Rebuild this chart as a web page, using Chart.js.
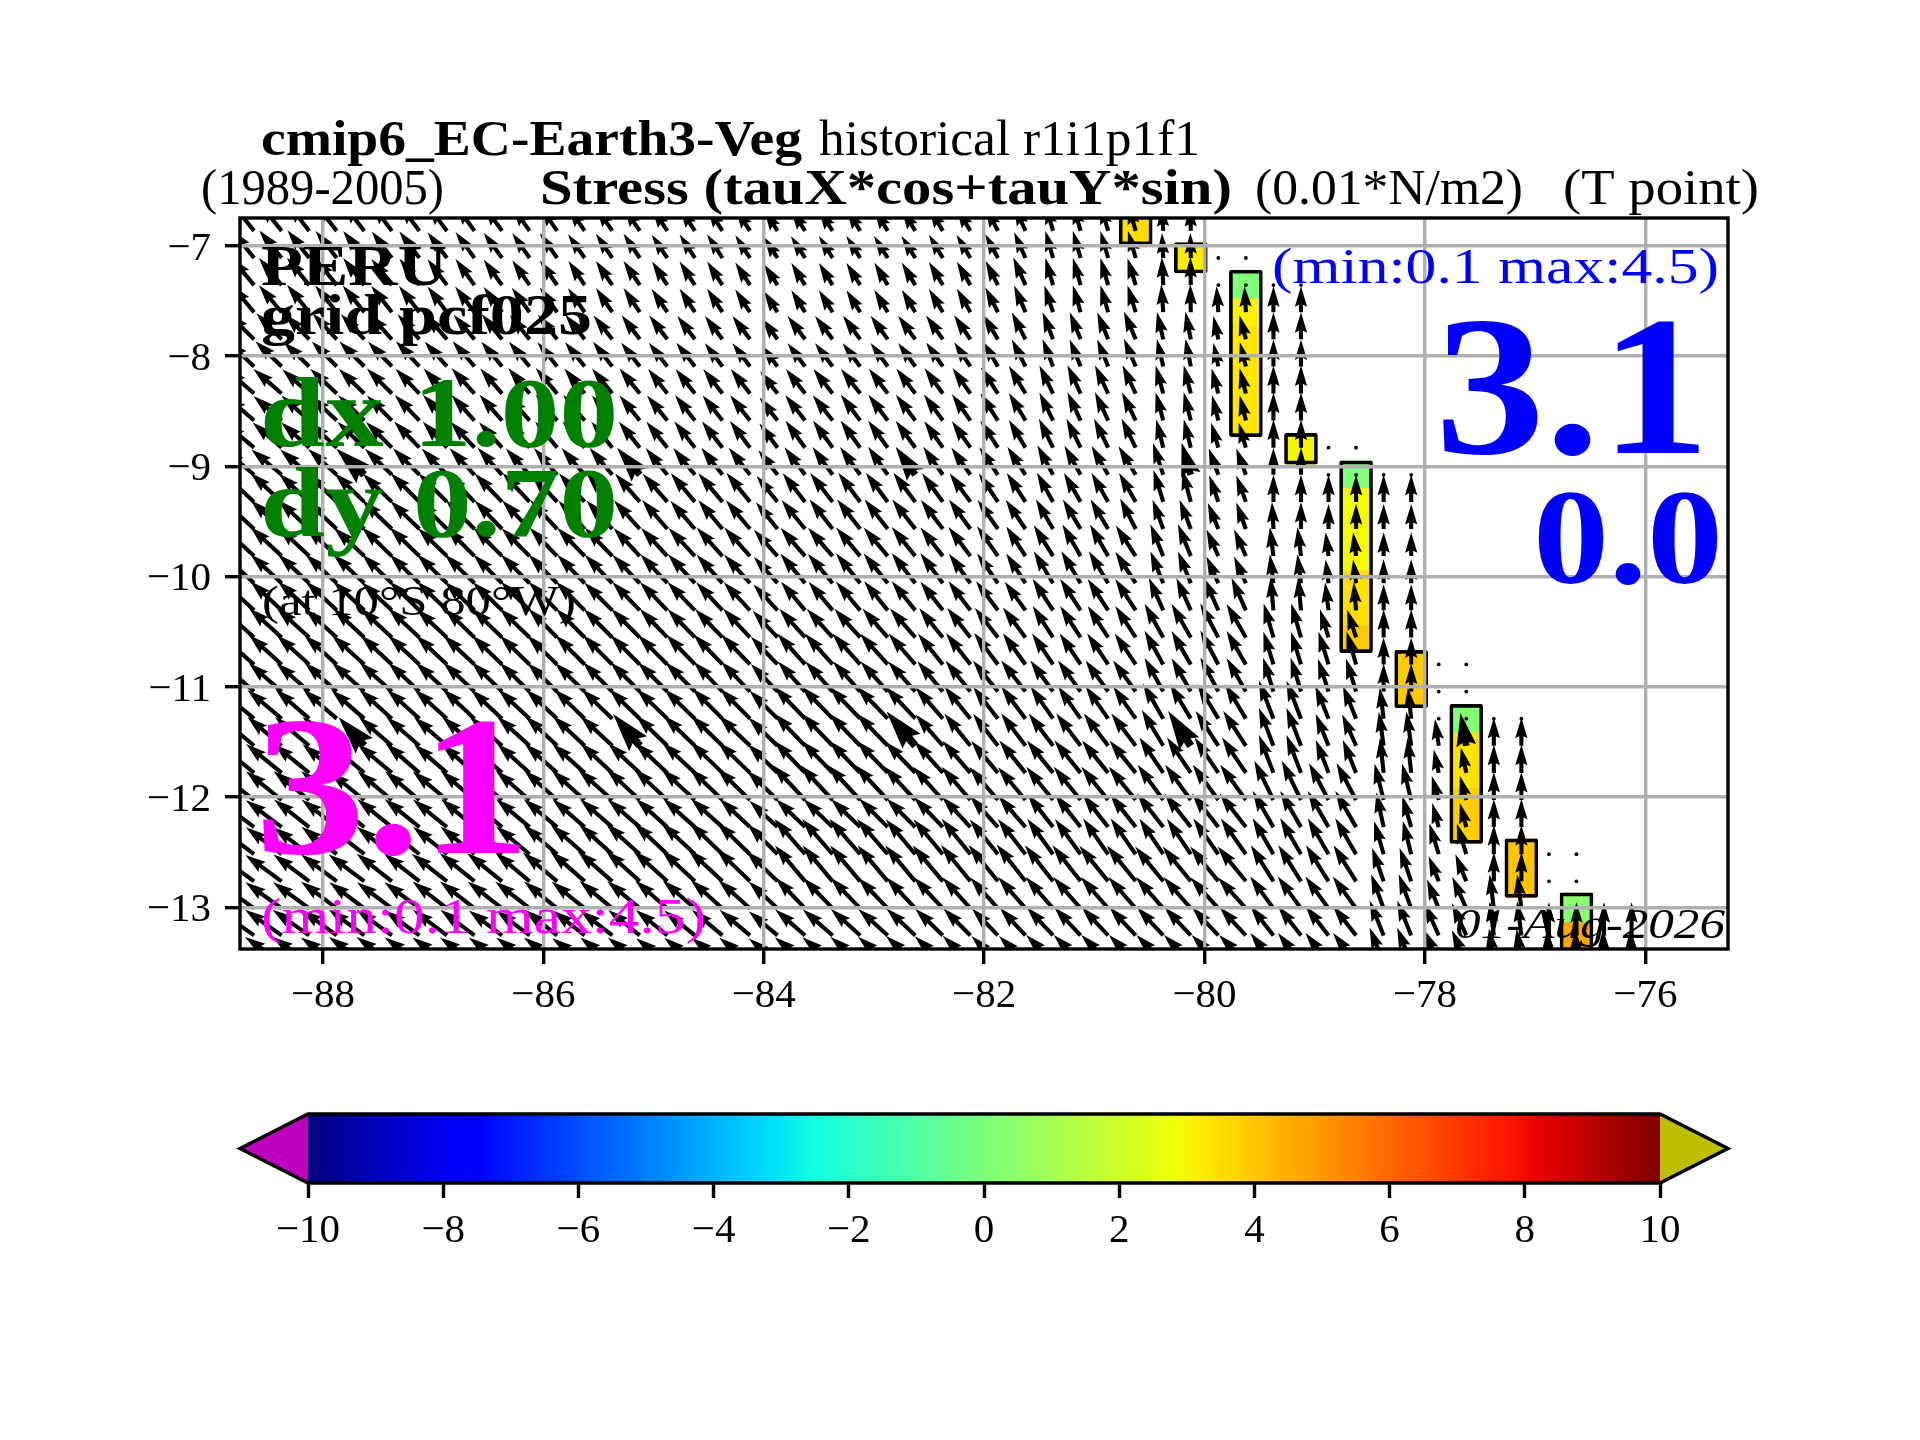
<!DOCTYPE html>
<html><head><meta charset="utf-8">
<style>html,body{margin:0;padding:0;background:#fff;width:1920px;height:1440px;overflow:hidden}
canvas{position:absolute;left:0;top:0}</style>
<script src="https://cdn.jsdelivr.net/npm/chart.js@4"></script></head><body>
<canvas id="map" width="1920" height="1440"></canvas>
<canvas id="cbar" width="1920" height="1440"></canvas>
<script>
const lons=[-88.625,-88.375,-88.125,-87.875,-87.625,-87.375,-87.125,-86.875,-86.625,-86.375,-86.125,-85.875,-85.625,-85.375,-85.125,-84.875,-84.625,-84.375,-84.125,-83.875,-83.625,-83.375,-83.125,-82.875,-82.625,-82.375,-82.125,-81.875,-81.625,-81.375,-81.125,-80.875,-80.625,-80.375,-80.125,-79.875,-79.625,-79.375,-79.125,-78.875,-78.625,-78.375,-78.125,-77.875,-77.625,-77.375,-77.125,-76.875,-76.625,-76.375,-76.125];
const lats=[-6.863,-7.109,-7.355,-7.601,-7.847,-8.093,-8.339,-8.584,-8.83,-9.076,-9.322,-9.568,-9.814,-10.06,-10.306,-10.552,-10.797,-11.043,-11.289,-11.535,-11.781,-12.027,-12.273,-12.519,-12.765,-13.011,-13.256,-13.502];
// direction of each arrow, degrees west of north
const angleRows=[
[39,39,38,38,38,37,37,37,36,36,35,35,35,34,34,34,33,33,33,33,33,33,32,32,32,31,31,28,24,16,16,16,16,3,1],
[39,39,38,38,38,37,37,37,36,36,35,35,35,34,34,34,33,33,33,33,33,32,32,32,32,31,31,28,24,16,16,16,16,3,1,0,0],
[40,40,39,39,38,38,37,37,36,36,35,35,34,34,34,33,33,33,33,33,32,32,32,31,31,31,30,27,24,16,16,16,17,3,1,0,0,0,0],
[40,40,39,39,39,38,38,37,37,36,36,35,35,34,34,34,33,33,33,33,32,32,32,31,31,31,30,27,23,18,16,16,17,4,1,4,3,0,0],
[45,44,44,43,43,42,41,41,40,39,39,38,38,38,37,37,37,37,37,37,37,37,36,36,36,35,34,31,27,21,22,22,23,13,11,12,15,0,0],
[47,46,46,45,45,44,43,42,41,40,40,39,39,38,38,38,38,37,37,37,37,37,37,36,36,35,34,31,27,21,22,22,23,13,11,12,14,0,0],
[49,49,48,47,46,45,44,43,42,41,40,40,39,39,39,38,38,38,38,38,38,38,38,37,37,36,35,33,31,26,25,25,25,15,14,15,14,0,0],
[49,49,48,47,46,45,44,43,42,41,41,40,40,39,39,39,38,38,38,38,38,38,37,37,37,36,35,33,31,26,25,25,26,15,14,14,14,0,0],
[50,49,48,47,46,45,44,43,43,42,41,40,40,39,39,39,38,38,37,37,36,36,36,36,36,35,35,33,31,26,26,26,26,14,14,16,16,0,0,0,0],
[50,50,49,48,47,46,45,44,43,42,42,41,41,40,40,39,39,38,38,38,37,36,36,35,35,35,35,34,33,28,29,30,31,18,16,20,20,0,0,0,0,0,0],
[47,47,47,46,46,46,45,45,44,44,43,43,42,42,41,41,40,40,39,39,38,38,37,37,37,36,36,34,33,29,30,30,30,17,15,19,20,0,0,0,0,0,0],
[47,47,47,47,46,46,46,45,45,44,44,43,43,42,42,41,41,40,40,39,39,38,38,38,38,37,36,35,34,30,31,31,27,20,21,22,20,3,0,0,0,0,0],
[47,47,47,47,47,46,46,46,45,45,45,44,44,44,43,43,43,42,42,42,41,41,40,40,39,38,37,35,33,32,30,30,33,22,22,24,24,7,7,7,7,0,0],
[47,47,47,47,47,46,46,46,46,45,45,45,44,44,44,43,43,42,42,42,40,40,39,39,38,37,36,35,33,31,31,31,33,22,22,24,24,7,7,7,7,0,0],
[47,47,47,47,47,47,46,46,46,46,45,45,45,45,44,44,44,43,43,43,40,40,40,39,39,38,37,37,36,33,33,33,33,24,24,24,24,5,5,7,5,0,0],
[48,48,48,48,47,47,47,47,46,46,46,45,45,45,45,44,44,44,43,43,42,42,42,41,41,39,38,38,37,33,33,33,33,29,30,28,30,16,16,17,18,0,0],
[49,48,48,48,48,47,47,47,47,46,46,46,45,45,45,45,44,44,44,44,42,42,42,42,41,39,38,37,36,34,34,34,34,29,30,28,30,17,17,17,16,0,0,0,0],
[49,49,49,48,48,48,47,47,47,46,46,46,46,45,45,45,45,44,44,44,42,42,42,42,42,40,39,39,38,36,36,36,36,29,30,28,30,17,17,18,17,0,0,0,0],
[50,50,49,49,49,48,48,48,47,47,47,47,46,46,46,46,46,45,45,45,44,44,44,44,43,41,39,38,37,35,35,35,35,30,31,31,31,21,21,22,22,7,6,0,0,0,0],
[50,50,50,50,42,49,49,49,48,48,48,47,47,47,40,46,46,46,46,46,44,44,44,44,40,41,39,38,37,37,37,37,37,31,33,33,33,21,21,22,24,8,8,8,10,0,0],
[51,51,51,50,50,50,49,49,49,48,48,48,48,47,47,47,47,46,46,46,44,44,44,44,44,42,41,40,39,39,39,39,39,34,34,34,34,21,21,21,22,6,6,12,12,0,0],
[52,51,51,51,51,50,50,50,49,49,49,48,48,48,47,47,47,46,46,46,43,43,43,43,43,42,41,41,40,39,39,39,39,36,36,36,36,26,26,28,28,14,14,16,15,0,0],
[53,53,52,52,52,51,51,51,50,50,50,50,49,49,49,48,48,48,47,47,46,46,46,45,45,44,43,42,41,38,38,38,38,38,38,38,38,30,30,30,30,12,16,15,15,0,0],
[53,53,53,52,52,52,51,51,51,50,50,49,49,48,48,47,47,46,46,45,41,41,41,41,40,40,39,39,38,36,36,35,35,34,34,35,35,30,30,30,30,16,14,17,17,0,0,0,0],
[54,54,53,53,53,52,52,52,51,51,50,50,49,49,48,48,47,47,46,46,40,40,40,40,40,40,39,39,38,38,38,39,39,39,39,39,39,32,32,32,32,19,19,22,22,0,0,0,0],
[54,54,54,53,53,53,53,52,52,52,52,51,51,50,50,49,49,48,48,47,44,44,44,44,43,43,42,42,41,41,41,41,41,41,41,42,42,36,36,36,36,20,20,22,24,7,7,0,0,0,0],
[55,55,55,54,54,54,54,53,53,53,53,52,52,52,51,51,51,50,50,50,49,49,48,48,47,46,45,44,43,43,43,43,43,43,43,43,43,38,38,38,38,22,22,24,24,7,7,0,0,0,0],
[55,55,55,55,54,54,54,54,54,53,53,53,53,52,52,52,51,51,51,50,50,50,49,49,48,47,46,45,45,44,44,44,44,44,44,44,44,38,38,38,38,22,22,24,24,8,8,3,2,2,2]
];
// stress magnitude of each arrow, tenths of 0.01 N/m2
const stressRows=[
[34,34,34,33,33,32,32,31,31,30,29,29,28,28,28,27,27,27,26,24,25,25,25,25,25,26,26,26,27,27,27,27,27,24,24],
[34,34,34,33,33,32,32,31,31,30,29,29,28,28,28,27,27,27,26,24,25,25,25,25,25,26,26,26,27,27,27,27,27,24,24,0,0],
[34,34,34,33,33,32,32,31,31,30,29,29,28,28,28,27,27,27,26,24,25,25,25,25,25,26,26,26,29,27,27,27,27,27,27,0,0,0,0],
[34,34,34,33,33,32,32,31,31,30,29,29,28,28,28,27,27,27,26,24,25,25,25,25,25,26,26,27,28,27,27,27,27,27,27,25,25,25,25],
[35,35,34,34,33,33,32,32,31,31,30,30,30,29,29,29,28,28,28,25,28,28,28,28,28,28,28,28,29,28,28,28,29,27,27,23,24,26,26],
[35,35,34,34,34,33,33,32,32,31,31,30,30,30,29,29,29,28,28,25,28,28,28,28,28,28,28,28,29,28,28,28,29,27,27,23,24,26,26],
[36,36,35,35,34,34,33,33,33,32,32,32,31,31,31,30,30,30,30,27,30,30,30,30,30,30,30,30,31,30,30,30,30,28,28,25,25,27,27],
[36,36,36,35,35,34,34,34,33,33,32,32,32,31,31,31,31,31,31,28,31,31,31,31,31,31,31,31,31,30,30,30,30,28,28,25,25,27,27],
[37,37,36,36,36,35,35,34,34,33,33,33,33,32,32,32,32,32,32,29,32,32,32,32,32,31,31,31,31,31,31,31,31,28,28,25,25,27,27,0,0],
[38,38,37,37,37,36,36,35,35,35,34,34,34,34,34,33,33,33,33,30,33,33,33,33,33,33,32,32,32,32,32,32,32,32,32,27,27,26,26,0,0,0,0],
[41,41,40,40,40,39,39,39,38,38,38,37,37,37,36,36,36,36,36,32,35,35,35,35,35,34,34,33,33,32,32,32,32,32,32,27,27,26,26,26,26,26,26],
[41,41,41,40,40,40,39,39,39,38,38,38,37,37,37,37,36,36,36,33,36,36,36,36,36,35,35,34,34,33,33,33,33,30,30,27,27,26,26,24,24,24,24],
[41,41,41,41,40,40,40,39,39,39,38,38,38,38,37,37,37,37,37,34,36,36,36,36,36,35,35,35,34,35,35,35,35,33,33,28,28,28,28,23,23,23,23],
[41,41,41,41,41,40,40,40,40,39,39,39,38,38,38,38,38,37,37,34,37,37,37,37,37,36,35,35,34,36,36,36,36,33,33,28,28,28,28,23,23,23,23],
[41,41,41,41,41,40,40,40,40,39,39,39,39,38,38,38,38,37,37,34,36,36,36,36,36,35,35,35,34,36,36,36,36,34,34,34,34,32,32,27,27,25,25],
[42,42,42,41,41,41,41,40,40,40,40,39,39,39,39,38,38,38,38,35,37,37,37,37,37,36,36,36,36,36,36,36,36,37,37,37,37,34,34,28,28,27,27],
[42,42,42,42,42,41,41,41,41,40,40,40,40,40,40,40,40,40,40,37,40,40,40,40,39,38,38,38,37,36,36,36,36,37,37,37,37,33,33,33,33,26,26,0,0],
[42,42,42,42,42,42,41,41,41,41,40,40,40,40,40,40,40,40,40,37,39,39,39,39,39,38,38,38,38,37,37,37,37,37,37,37,37,34,34,33,33,27,27,0,0],
[43,43,43,43,42,42,42,42,42,41,41,41,41,41,41,41,41,41,41,38,43,43,43,43,42,40,40,39,39,38,38,38,38,39,39,39,39,39,39,34,34,30,30,0,0,0,0],
[43,43,43,43,37,42,42,42,42,42,42,42,42,42,40,42,42,42,42,39,43,43,43,43,43,40,40,39,39,39,39,39,39,40,40,40,40,39,39,33,33,33,33,26,32,27,27],
[44,44,44,43,43,43,43,42,42,42,42,42,42,42,42,43,43,43,43,40,43,43,43,43,42,41,41,40,40,40,40,40,40,41,41,41,41,39,39,34,34,34,34,23,25,27,27],
[44,44,44,44,43,43,43,43,43,43,43,43,43,44,44,44,44,44,44,41,46,46,46,46,44,43,42,42,41,41,41,41,41,42,42,42,42,42,42,40,40,36,36,24,24,27,27],
[43,43,43,43,43,43,43,42,42,42,42,42,41,41,41,41,41,41,40,37,39,39,39,39,39,40,40,40,40,40,40,40,40,41,41,41,41,40,40,40,40,34,31,24,24,27,27],
[43,43,43,43,43,43,42,42,42,42,42,43,43,43,44,44,44,44,44,41,45,45,45,45,44,44,44,43,43,42,42,42,42,41,41,42,42,40,40,40,40,33,33,31,31,28,28,0,0],
[43,43,43,43,43,43,43,43,43,43,43,43,44,44,44,44,44,45,45,42,45,45,45,45,45,45,45,45,45,44,44,44,44,43,43,43,43,41,41,41,41,34,34,26,28,28,28,0,0],
[43,43,43,43,42,42,42,42,42,42,42,41,41,41,41,41,41,41,41,38,41,41,41,41,41,41,40,40,40,40,40,40,40,40,40,40,40,38,38,38,38,35,35,30,33,33,33,0,0,0,0],
[43,43,43,42,42,42,41,41,41,40,40,40,39,39,39,39,38,38,38,36,38,38,38,38,38,37,37,36,36,37,37,37,37,37,37,37,37,36,36,36,36,36,36,34,34,33,33,32,32,32,32],
[43,43,43,42,42,42,41,41,41,40,40,40,39,39,39,38,38,38,38,36,38,38,38,38,38,37,37,36,36,37,37,37,37,37,37,37,37,36,36,36,36,36,36,34,34,33,33,32,32,32,32]
];
// grid cells whose arrows are drawn heavy: [lon index, lat index]
const heavyCells=[[4,9],[14,9],[24,9],[34,9],[4,19],[14,19],[24,19],[34,19],[44,19]];
// coastal land cells
const cellLons=[-80.625,-80.125,-79.625,-79.625,-79.625,-79.125,-78.625,-78.625,-78.625,-78.625,-78.125,-77.625,-77.625,-77.625,-77.125,-76.625,-76.625];
const cellNorth=[-6.6,-6.97,-7.22,-7.48,-7.73,-8.70,-8.95,-9.20,-9.95,-10.45,-10.67,-11.16,-11.42,-11.92,-12.38,-12.87,-13.14];
const cellSouth=[-6.99,-7.245,-7.48,-7.73,-8.73,-8.98,-9.20,-9.95,-10.45,-10.69,-11.19,-11.42,-11.92,-12.42,-12.91,-13.14,-13.5];
const cellValues=[3.5,3.2,0.1,3.1,3.3,3.0,0.1,2.9,3.5,3.9,3.9,0.2,3.4,3.8,4.0,0.3,4.6];
const boxLons=[-80.625,-80.125,-79.625,-79.125,-78.625,-78.125,-77.625,-77.125,-76.625];
const boxNorth=[-6.6,-6.97,-7.22,-8.70,-8.95,-10.67,-11.16,-12.38,-12.87];
const boxSouth=[-6.99,-7.245,-8.73,-8.98,-10.69,-11.19,-12.42,-12.91,-13.5];
const cbarTicks=[-10,-8,-6,-4,-2,0,2,4,6,8,10];
const jetR=[[0,0],[.35,0],[.66,1],[.89,1],[1,.5]];
const jetG=[[0,0],[.125,0],[.375,1],[.64,1],[.91,0],[1,0]];
const jetB=[[0,.5],[.11,1],[.34,1],[.65,0],[1,0]];

function seg(s,t){for(let i=1;i<s.length;i++){if(t<=s[i][0]){const a=s[i-1],b=s[i];return a[1]+(b[1]-a[1])*(t-a[0])/(b[0]-a[0]);}}return s[s.length-1][1];}
function jet(v){const t=Math.min(1,Math.max(0,(v+10)/20));return `rgb(${Math.round(seg(jetR,t)*255)},${Math.round(seg(jetG,t)*255)},${Math.round(seg(jetB,t)*255)})`;}

const SERIF='"Liberation Serif"';
const arrows=[];
angleRows.forEach((row,k)=>row.forEach((a,i)=>{
  arrows.push({x:lons[i],y:lats[k],angle:a,stress:stressRows[k][i]/10,heavy:heavyCells.some(c=>c[0]===i&&c[1]===k)});
}));

const quiver={id:'quiver',afterDatasetsDraw(chart){
  const ctx=chart.ctx,a=chart.chartArea,meta=chart.getDatasetMeta(0);
  ctx.save();ctx.beginPath();ctx.rect(a.left,a.top,a.right-a.left,a.bottom-a.top);ctx.clip();ctx.fillStyle='#000';
  const PX_PER_UNIT=10.4,W=4.1;
  meta.data.forEach((el,n)=>{
    const d=arrows[n],L=d.stress*PX_PER_UNIT;
    ctx.save();ctx.translate(el.x,el.y);
    if(L<=0){ctx.beginPath();ctx.arc(0,0,1.9,0,7);ctx.fill();ctx.restore();return;}
    ctx.rotate(-d.angle*Math.PI/180);
    let w=d.heavy?W*1.9:W;const f=L<5*w?L/(5*w):1;const hl=5*w*f,ha=4.5*w*f,hw=1.5*w*f,sw=w*f/2;
    ctx.beginPath();ctx.moveTo(-sw,0);ctx.lineTo(-sw,-(L-ha));ctx.lineTo(-hw,-(L-hl));ctx.lineTo(0,-L);
    ctx.lineTo(hw,-(L-hl));ctx.lineTo(sw,-(L-ha));ctx.lineTo(sw,0);ctx.closePath();ctx.fill();
    ctx.restore();
  });
  ctx.restore();
}};

const C={mag:'#ff00ff',blue:'#0000ff',green:'#008000',blk:'#000'};
// [text, left, baseline, width, font, colour]
const texts=[
['cmip6_EC-Earth3-Veg',261,155,541,'bold 50px '+SERIF,C.blk],
['historical r1i1p1f1',819,155,381,'50px '+SERIF,C.blk],
['(1989-2005)',201,204,243,'50px '+SERIF,C.blk],
['Stress (tauX*cos+tauY*sin)',540,204,692,'bold 50px '+SERIF,C.blk],
['(0.01*N/m2)',1255,204,268,'50px '+SERIF,C.blk],
['(T point)',1563,204,196,'50px '+SERIF,C.blk],
['PERU',261,285,186,'bold 58px '+SERIF,C.blk],
['grid pcf025',261,334,331,'bold 56px '+SERIF,C.blk],
['dx 1.00',260,446,358,'bold 100px '+SERIF,C.green],
['dy 0.70',260,536,358,'bold 100px '+SERIF,C.green],
['(at 10°S 80°W)',262,615,314,'42px '+SERIF,C.blk],
['3.1',255,853,276,'bold 200px '+SERIF,C.mag],
['(min:0.1 max:4.5)',261,933,445,'50px '+SERIF,C.mag],
['01-Aug-2026',1455,938,270,'italic 42px '+SERIF,C.blk],
['(min:0.1 max:4.5)',1272,283,447,'50px '+SERIF,C.blue],
['3.1',1435,453,275,'bold 200px '+SERIF,C.blue],
['0.0',1533,583,190,'bold 135px '+SERIF,C.blue]
];
const overlay={id:'overlay',afterDraw(chart){
  const ctx=chart.ctx,a=chart.chartArea;
  ctx.save();ctx.strokeStyle='#000';ctx.lineWidth=3.4;ctx.strokeRect(a.left,a.top,a.right-a.left,a.bottom-a.top);
  ctx.textBaseline='alphabetic';ctx.textAlign='left';
  texts.forEach(([s,x,y,w,f,c])=>{ctx.save();ctx.font=f;ctx.fillStyle=c;const m=ctx.measureText(s).width;ctx.translate(x,y);ctx.scale(w/m,1);ctx.fillText(s,0,0);ctx.restore();});
  ctx.restore();
}};
const minus=v=>String(v).replace('-','\u2212');
const tickFont={family:SERIF,size:41,lineHeight:1};

new Chart(document.getElementById('map'),{
  type:'bar',
  data:{datasets:[
    {type:'scatter',data:arrows,pointRadius:0,order:0,showLine:false},
    {type:'bar',grouped:false,order:1,data:boxLons.map((x,i)=>({x,y:[boxSouth[i],boxNorth[i]]})),barThickness:33,backgroundColor:'rgba(0,0,0,0)',borderColor:'#000',borderWidth:3,borderSkipped:false,borderRadius:2},
    {type:'bar',grouped:false,order:2,data:cellLons.map((x,i)=>({x,y:[cellSouth[i],cellNorth[i]]})),barThickness:31,backgroundColor:cellValues.map(jet),borderWidth:0}
  ]},
  options:{responsive:false,animation:false,devicePixelRatio:1,
    layout:{padding:{left:0,right:192,top:218,bottom:391}},
    plugins:{legend:{display:false},tooltip:{enabled:false},title:{display:false}},
    scales:{
      x:{type:'linear',offset:false,min:-88.753,max:-75.25,afterFit(s){s.height=100;},
        border:{display:false},
        grid:{offset:false,z:1,color:'#b0b0b0',lineWidth:3.4,tickColor:'#000',tickWidth:3.4,tickLength:15},
        ticks:{stepSize:2,includeBounds:false,autoSkip:false,maxRotation:0,color:'#000',font:tickFont,padding:12,callback:minus}},
      y:{type:'linear',min:-13.379,max:-6.746,afterFit(s){s.width=240;},
        border:{display:false},
        grid:{z:1,color:'#b0b0b0',lineWidth:3.4,tickColor:'#000',tickWidth:3.4,tickLength:15},
        ticks:{stepSize:1,includeBounds:false,autoSkip:false,color:'#000',font:tickFont,padding:14,labelOffset:3,callback:minus}}
    }
  },
  plugins:[quiver,overlay]
});

const cbarPaint={id:'cbarPaint',beforeDatasetsDraw(chart){
  const ctx=chart.ctx,a=chart.chartArea,sx=chart.scales.x;
  const g=ctx.createLinearGradient(a.left,0,a.right,0);
  for(let i=0;i<=200;i++){g.addColorStop(i/200,jet(-10+i/10));}
  ctx.save();ctx.fillStyle=g;ctx.fillRect(sx.getPixelForValue(-10),a.top,sx.getPixelForValue(10)-sx.getPixelForValue(-10),a.bottom-a.top);
  const mid=(a.top+a.bottom)/2,ext=68;
  ctx.fillStyle='#bf00bf';ctx.beginPath();ctx.moveTo(a.left,a.top);ctx.lineTo(a.left-ext,mid);ctx.lineTo(a.left,a.bottom);ctx.closePath();ctx.fill();
  ctx.fillStyle='#bfbf00';ctx.beginPath();ctx.moveTo(a.right,a.top);ctx.lineTo(a.right+ext,mid);ctx.lineTo(a.right,a.bottom);ctx.closePath();ctx.fill();
  ctx.strokeStyle='#000';ctx.lineWidth=3.4;ctx.lineJoin='miter';ctx.beginPath();
  ctx.moveTo(a.left,a.top);ctx.lineTo(a.right,a.top);ctx.lineTo(a.right+ext,mid);ctx.lineTo(a.right,a.bottom);ctx.lineTo(a.left,a.bottom);ctx.lineTo(a.left-ext,mid);ctx.closePath();ctx.stroke();
  ctx.restore();
}};
new Chart(document.getElementById('cbar'),{
  type:'scatter',
  data:{datasets:[{data:cbarTicks.map(v=>({x:v,y:0})),pointRadius:0}]},
  options:{responsive:false,animation:false,devicePixelRatio:1,
    layout:{padding:{left:308,right:260,top:1114,bottom:157}},
    plugins:{legend:{display:false},tooltip:{enabled:false}},
    scales:{
      x:{type:'linear',min:-10,max:10,afterFit(s){s.height=100;},
        border:{display:false},
        grid:{drawOnChartArea:false,tickColor:'#000',tickWidth:3.4,tickLength:15},
        ticks:{stepSize:2,autoSkip:false,maxRotation:0,color:'#000',font:tickFont,padding:13,callback:minus}},
      y:{display:false,min:-1,max:1}
    }
  },
  plugins:[cbarPaint]
});
</script></body></html>
